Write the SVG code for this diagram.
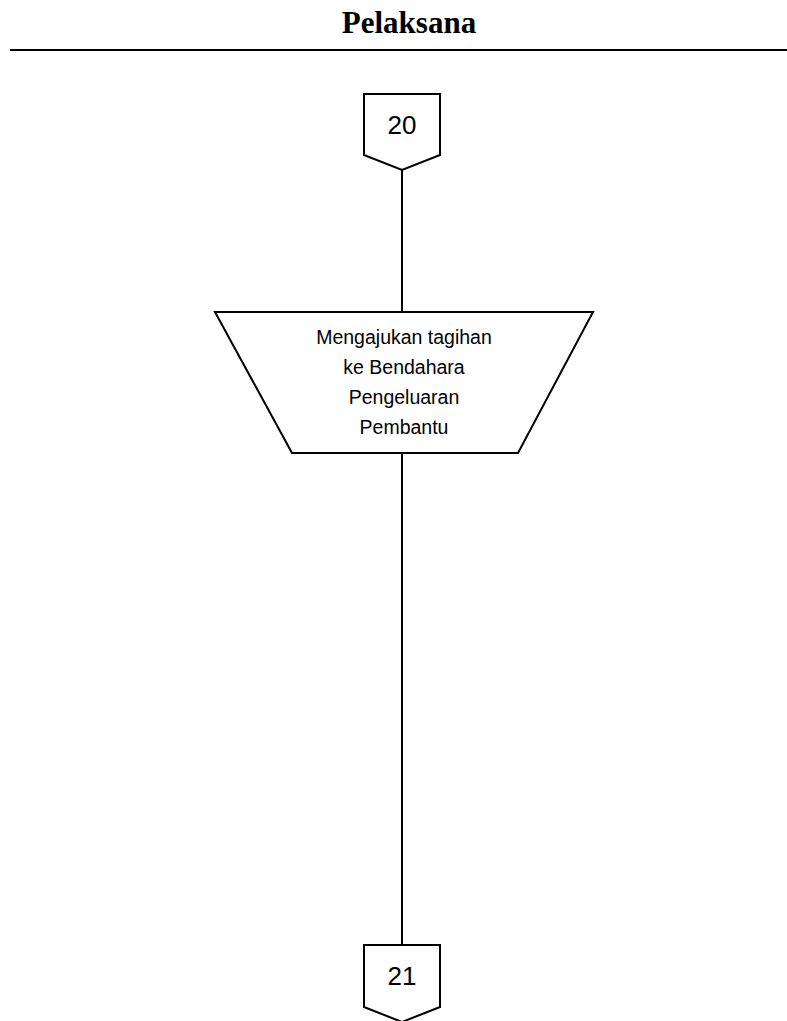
<svg xmlns="http://www.w3.org/2000/svg" width="787" height="1021" viewBox="0 0 787 1021">
<style>
.shape{fill:#fff;stroke:#000;stroke-width:2;stroke-linejoin:miter}
.conn{stroke:#000;stroke-width:2;fill:none}
.lbl{font-family:"Liberation Sans",Arial,sans-serif;fill:#000;text-anchor:middle}
.title{font-family:"Liberation Serif","Times New Roman",serif;font-weight:bold;font-size:31px;text-anchor:middle;fill:#000}
</style>
<rect width="787" height="1021" fill="#fff"/>
<g id="header">
<text class="title" x="409" y="33">Pelaksana</text>
<line x1="10" y1="50" x2="787" y2="50" stroke="#000" stroke-width="2"/>
</g>
<g id="connectors">
<line class="conn" x1="402" y1="170" x2="402" y2="312"/>
<line class="conn" x1="402" y1="453" x2="402" y2="945"/>
</g>
<g id="node-20">
<polygon class="shape" points="364,94 440,94 440,155 402,170 364,155"/>
<text class="lbl" x="402" y="134" font-size="26">20</text>
</g>
<g id="node-process">
<polygon class="shape" points="215,312 593,312 518,453 292,453"/>
<text class="lbl" x="404" y="344" font-size="19.5">Mengajukan tagihan</text>
<text class="lbl" x="404" y="374" font-size="19.5">ke Bendahara</text>
<text class="lbl" x="404" y="404" font-size="19.5">Pengeluaran</text>
<text class="lbl" x="404" y="434" font-size="19.5">Pembantu</text>
</g>
<g id="node-21">
<polygon class="shape" points="364,945 440,945 440,1007 402,1022 364,1007"/>
<text class="lbl" x="402" y="985" font-size="26">21</text>
</g>
</svg>
